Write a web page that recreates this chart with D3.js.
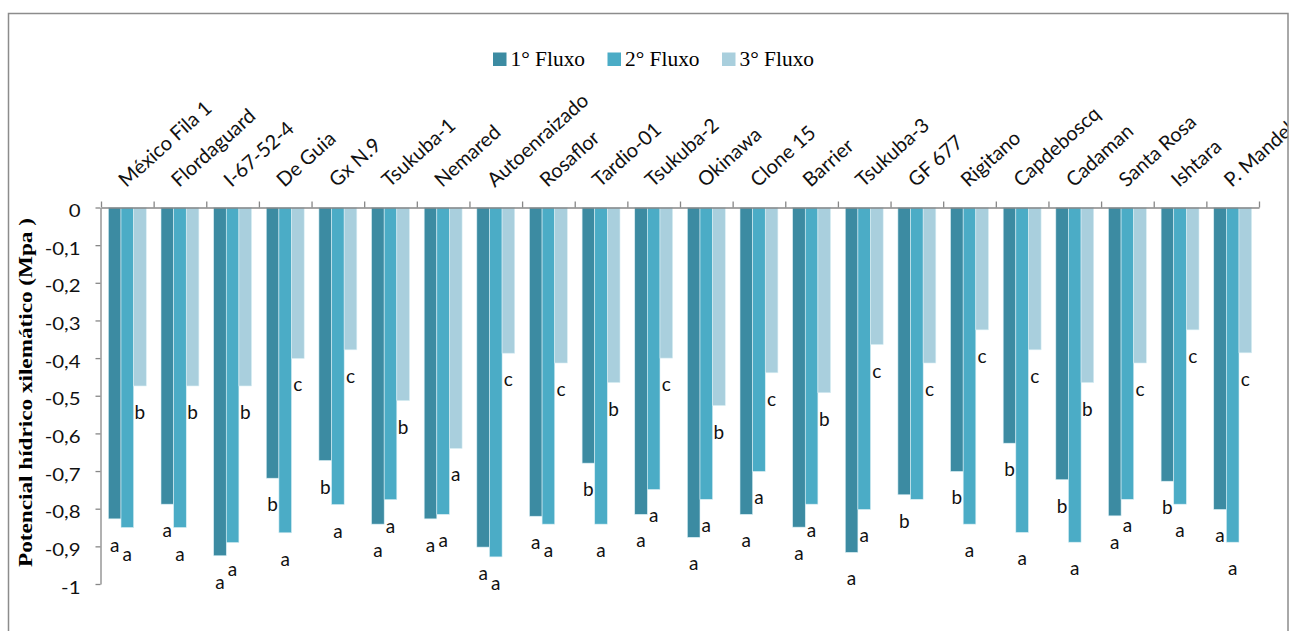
<!DOCTYPE html>
<html>
<head>
<meta charset="utf-8">
<script src="https://cdn.jsdelivr.net/npm/d3@7"></script>
<style>
  body { margin: 0; background: #ffffff; }
  svg { display: block; }
</style>
</head>
<body>
<svg id="chart" width="1291" height="631"></svg>
<script>
// Rootstock genotypes on the category axis
const categories = ["México Fila 1", "Flordaguard", "I-67-52-4", "De Guia", "Gx N.9", "Tsukuba-1",
  "Nemared", "Autoenraizado", "Rosaflor", "Tardio-01", "Tsukuba-2", "Okinawa", "Clone 15",
  "Barrier", "Tsukuba-3", "GF 677", "Rigitano", "Capdeboscq", "Cadaman", "Santa Rosa",
  "Ishtara", "P. Mandel"];

const seriesNames = ["1° Fluxo", "2° Fluxo", "3° Fluxo"];

// Xylem water potential (MPa) for each growth flush
const flux1 = [-0.827, -0.788, -0.925, -0.719, -0.672, -0.841, -0.827, -0.902, -0.820, -0.679, -0.815,
  -0.876, -0.815, -0.849, -0.916, -0.763, -0.701, -0.626, -0.723, -0.819, -0.727, -0.802];
const flux2 = [-0.850, -0.850, -0.890, -0.864, -0.789, -0.776, -0.815, -0.928, -0.841, -0.841, -0.749,
  -0.775, -0.701, -0.788, -0.802, -0.775, -0.841, -0.863, -0.889, -0.775, -0.788, -0.889];
const flux3 = [-0.474, -0.474, -0.474, -0.401, -0.378, -0.513, -0.640, -0.387, -0.413, -0.465, -0.400,
  -0.526, -0.439, -0.492, -0.364, -0.413, -0.325, -0.378, -0.465, -0.413, -0.325, -0.386];

// Mean-comparison letters shown under each bar
const letters1 = ["a", "a", "a", "b", "b", "a", "a", "a", "a", "b", "a", "a", "a", "a", "a", "b", "b", "b", "b", "a", "b", "a"];
const letters2 = ["a", "a", "a", "a", "a", "a", "a", "a", "a", "a", "a", "a", "a", "a", "a", "", "a", "a", "a", "a", "a", "a"];
const letters3 = ["b", "b", "b", "c", "c", "b", "a", "c", "c", "b", "c", "b", "c", "b", "c", "c", "c", "c", "b", "c", "c", "c"];

const yTicks = [0, -0.1, -0.2, -0.3, -0.4, -0.5, -0.6, -0.7, -0.8, -0.9, -1];
const yTickLabels = ["0", "-0,1", "-0,2", "-0,3", "-0,4", "-0,5", "-0,6", "-0,7", "-0,8", "-0,9", "-1"];

const yTitle = "Potencial hídrico xilemático (Mpa )";

const colors = ["#3C8BA2", "#4BACC6", "#A9CFDD"];

const series = [flux1, flux2, flux3];
const letters = [letters1, letters2, letters3];

const sansFont = "Lato, 'Open Sans', sans-serif";
const serifFont = "'Liberation Serif', 'Times New Roman', serif";
const axisColor = "#878787";
const TICK_STRETCH = 1.2;

const svg = d3.select("#chart");

// Chart area clip + frame
svg.append("defs").append("clipPath").attr("id", "frameClip")
  .append("rect").attr("x", 8).attr("y", 13).attr("width", 1280).attr("height", 640);

const root = svg.append("g").attr("clip-path", "url(#frameClip)");

// Scales
const x0 = d3.scaleBand().domain(categories).range([101, 1259])
  .paddingInner(0.28).paddingOuter(0.14);
const x1 = d3.scaleBand().domain([0, 1, 2]).range([0, x0.bandwidth()]);
const xEdges = d3.scaleLinear().domain([0, categories.length]).range([101, 1259]);
const y = d3.scaleLinear().domain([-1, 0]).range([584, 207.5]);

// Bars
const rows = categories.map((c, i) => ({
  cat: c,
  items: series.map((s, j) => ({ j, v: s[i], lab: letters[j][i] }))
}));

const groups = root.append("g").selectAll("g.cat")
  .data(rows).join("g")
  .attr("class", "cat")
  .attr("transform", d => `translate(${x0(d.cat)},0)`);

groups.selectAll("rect")
  .data(d => d.items).join("rect")
  .attr("x", d => x1(d.j))
  .attr("y", y(0))
  .attr("width", x1.bandwidth())
  .attr("height", d => y(d.v) - y(0))
  .attr("fill", d => colors[d.j])
  .attr("stroke", "#d9eef4")
  .attr("stroke-width", 0.6);

groups.selectAll("text")
  .data(d => d.items).join("text")
  .attr("x", d => x1(d.j) + x1.bandwidth() / 2)
  .attr("y", d => y(d.v) + 33)
  .attr("text-anchor", "middle")
  .attr("font-family", sansFont)
  .attr("font-size", 19)
  .attr("fill", "#111")
  .text(d => d.lab);

// Top category axis with ticks at group boundaries
const xAxis = root.append("g").attr("transform", `translate(0,${y(0)})`)
  .call(d3.axisTop(xEdges).tickValues(d3.range(categories.length + 1)).tickFormat("")
    .tickSize(6).tickSizeOuter(0));
xAxis.select(".domain").attr("stroke", axisColor).attr("stroke-width", 1.3);
xAxis.selectAll(".tick line").attr("stroke", axisColor).attr("stroke-width", 1.3);

// Rotated category names
root.append("g").selectAll("text")
  .data(categories).join("text")
  .attr("transform", d => `translate(${x0(d) + x0.bandwidth() / 2 - 1},188) rotate(-42)`)
  .attr("font-family", sansFont)
  .attr("font-size", 20)
  .attr("fill", "#111")
  .text(d => d);

// Left value axis
const yAxis = root.append("g").attr("transform", "translate(100.5,0)")
  .call(d3.axisLeft(y).tickValues(yTicks).tickSize(5).tickSizeOuter(0)
    .tickFormat((d, i) => yTickLabels[i]));
yAxis.select(".domain").attr("stroke", axisColor).attr("stroke-width", 1.3);
yAxis.selectAll(".tick line").attr("stroke", axisColor).attr("stroke-width", 1.3);
yAxis.selectAll(".tick text")
  .attr("x", -20 / TICK_STRETCH)
  .attr("dy", null)
  .attr("y", 9)
  .attr("transform", `scale(${TICK_STRETCH},1)`)
  .attr("font-family", sansFont)
  .attr("font-size", 17)
  .attr("fill", "#111")
  .attr("text-anchor", "end");

// Axis title
root.append("text")
  .attr("transform", "translate(32,392.5) rotate(-90) scale(1.22,1)")
  .attr("text-anchor", "middle")
  .attr("font-family", serifFont)
  .attr("font-weight", "bold")
  .attr("font-size", 19)
  .attr("fill", "#000")
  .text(yTitle);

// Legend
const legend = root.append("g").attr("transform", "translate(493,52.5)");
const legendItems = legend.selectAll("g")
  .data(seriesNames).join("g")
  .attr("transform", (d, i) => `translate(${i * 114.5},0)`);
legendItems.append("rect")
  .attr("width", 13.5).attr("height", 13.5)
  .attr("fill", (d, i) => colors[i]);
legendItems.append("text")
  .attr("transform", "translate(17.5,13) scale(1.07,1)")
  .attr("font-family", serifFont)
  .attr("font-size", 20)
  .attr("fill", "#000")
  .text(d => d);

// Frame
svg.append("rect")
  .attr("x", 8.5).attr("y", 13.5)
  .attr("width", 1279.5).attr("height", 640)
  .attr("fill", "none")
  .attr("stroke", "#8c8c8c")
  .attr("stroke-width", 1.5);
</script>
</body>
</html>
